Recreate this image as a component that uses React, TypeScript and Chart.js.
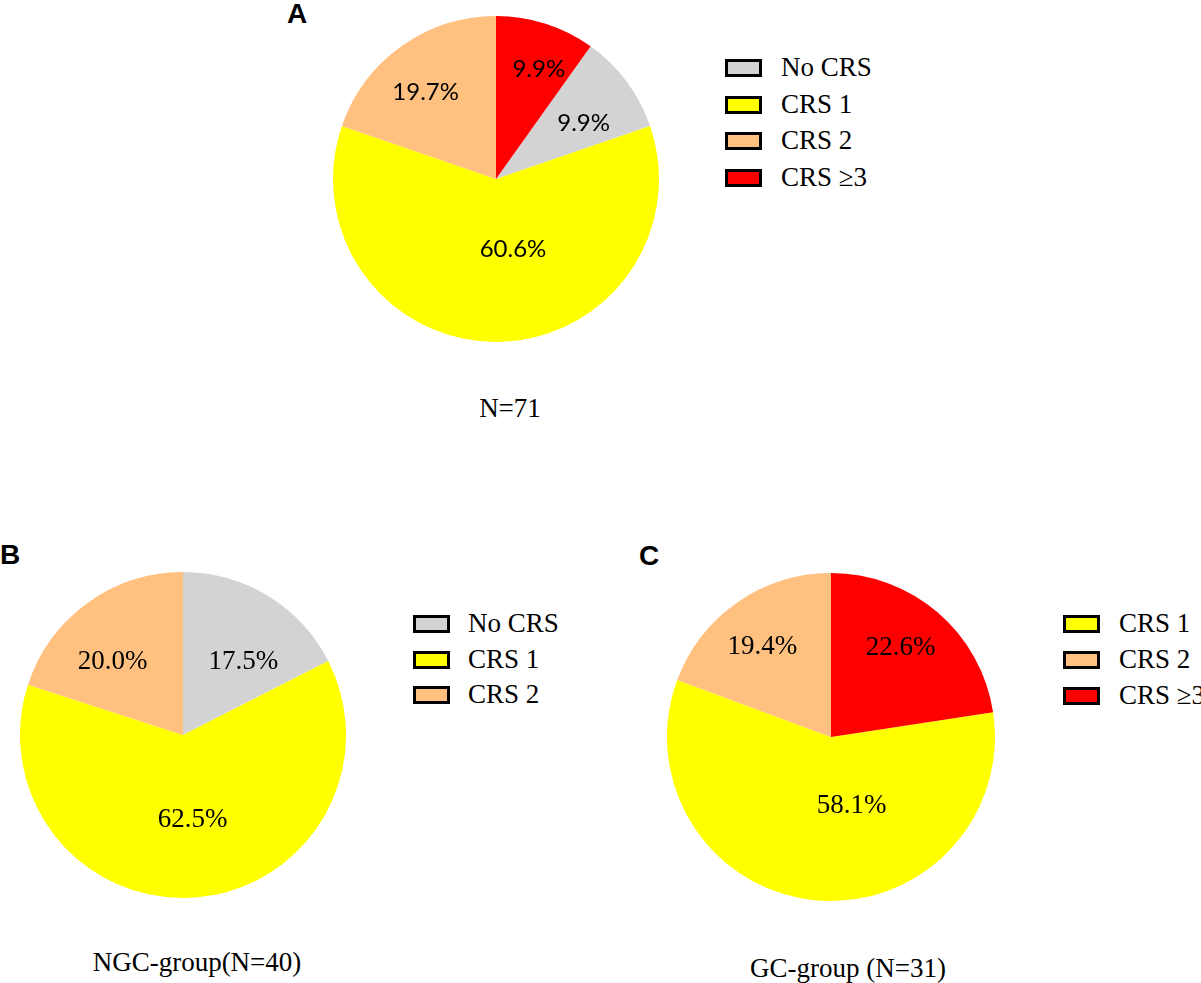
import { useEffect, useRef } from "react";
import { Chart, ArcElement, PieController } from "chart.js";

Chart.register(PieController, ArcElement);

// patient counts per CRS grade
const categoriesAll = ["No CRS", "CRS 1", "CRS 2", "CRS ≥3"];
const countsAll = [7, 43, 14, 7];

const categoriesNGC = ["No CRS", "CRS 1", "CRS 2"];
const countsNGC = [7, 25, 8];

const categoriesGC = ["CRS 1", "CRS 2", "CRS ≥3"];
const countsGC = [18, 6, 7];

const categoryColors: Record<string, string> = {
  "No CRS": "#D3D3D3",
  "CRS 1": "#FFFF00",
  "CRS 2": "#FFC080",
  "CRS ≥3": "#FF0000",
};

const SERIF = '"Liberation Serif", "Times New Roman", serif';
const SANS = '"Liberation Sans", Arial, sans-serif';

type Place = [number, number, number];

interface PieProps {
  categories: string[];
  counts: number[];
  left: number;
  top: number;
  size: number;
  labelFont: string;
  places: Place[];
}

function Pie({ categories, counts, left, top, size, labelFont, places }: PieProps) {
  const chartRef = useRef<HTMLCanvasElement | null>(null);

  useEffect(() => {
    const ctx = chartRef.current?.getContext("2d");
    if (!ctx) return;

    const total = counts.reduce((a, b) => a + b, 0);
    const labels = counts.map((c) => `${((c / total) * 100).toFixed(1)}%`);
    // the highest grade slice starts at 12 o'clock
    const topIdx = categories.indexOf("CRS ≥3");
    const rotation = topIdx >= 0 ? (360 * counts[topIdx]) / total : 0;

    const sliceLabels = {
      id: "sliceLabels",
      afterDatasetsDraw(chart: Chart) {
        const c = chart.ctx;
        const meta = chart.getDatasetMeta(0);
        c.save();
        c.font = labelFont;
        c.fillStyle = "#000";
        c.textAlign = "center";
        c.textBaseline = "middle";
        meta.data.forEach((el: any, i: number) => {
          const { x, y, startAngle, endAngle, outerRadius } = el.getProps(
            ["x", "y", "startAngle", "endAngle", "outerRadius"],
            true
          );
          const mid = (startAngle + endAngle) / 2;
          const [frac, dx, dy] = places[i];
          c.fillText(
            labels[i],
            x + Math.cos(mid) * outerRadius * frac + dx,
            y + Math.sin(mid) * outerRadius * frac + dy
          );
        });
        c.restore();
      },
    };

    const chart = new Chart(ctx, {
      type: "pie",
      data: {
        labels: categories,
        datasets: [
          {
            data: counts,
            backgroundColor: categories.map((k) => categoryColors[k]),
            borderWidth: 0,
            hoverOffset: 0,
            offset: 0,
          },
        ],
      },
      options: {
        animation: false,
        responsive: false,
        rotation,
        layout: { padding: 0 },
        events: [],
        plugins: {
          legend: { display: false },
          tooltip: { enabled: false },
        },
      },
      plugins: [sliceLabels],
    });

    return () => chart.destroy();
  }, []);

  return (
    <canvas
      ref={chartRef}
      width={size}
      height={size}
      style={{ position: "absolute", left, top, width: size, height: size }}
    />
  );
}

function Legend({
  categories,
  left,
  top,
  pitch,
  textLeft,
}: {
  categories: string[];
  left: number;
  top: number;
  pitch: number;
  textLeft: number;
}) {
  return (
    <>
      {categories.map((k, i) => (
        <div key={k}>
          <div
            style={{
              position: "absolute",
              left,
              top: top + i * pitch,
              width: 37,
              height: 18,
              boxSizing: "border-box",
              border: "3px solid #000",
              background: categoryColors[k],
            }}
          />
          <div
            style={{
              position: "absolute",
              left: textLeft,
              top: top - 5 + i * pitch,
              font: `27px ${SERIF}`,
              lineHeight: "27px",
              whiteSpace: "nowrap",
              color: "#000",
            }}
          >
            {k}
          </div>
        </div>
      ))}
    </>
  );
}

function Caption({ text, cx, top }: { text: string; cx: number; top: number }) {
  return (
    <div
      style={{
        position: "absolute",
        left: cx - 200,
        width: 400,
        top,
        textAlign: "center",
        font: `27px ${SERIF}`,
        lineHeight: "27px",
        color: "#000",
      }}
    >
      {text}
    </div>
  );
}

function Letter({ text, left, top }: { text: string; left: number; top: number }) {
  return (
    <div
      style={{
        position: "absolute",
        left,
        top,
        font: `bold 28px ${SANS}`,
        lineHeight: "28px",
        color: "#000",
      }}
    >
      {text}
    </div>
  );
}

export default function App() {
  return (
    <div
      style={{
        position: "absolute",
        left: 0,
        top: 0,
        width: 1201,
        height: 983,
        overflow: "hidden",
        background: "#fff",
      }}
    >
      <Letter text="A" left={287} top={0} />
      <Pie
        categories={categoriesAll}
        counts={countsAll}
        left={333}
        top={16}
        size={326}
        labelFont="24px Lato, sans-serif"
        places={[
          [0.64, 4, 7],
          [0.44, 17, -1],
          [0.68, -6, 4],
          [0.72, 7, 2],
        ]}
      />
      <Legend categories={categoriesAll} left={725} top={59} pitch={36.7} textLeft={781} />
      <Caption text="N=71" cx={510} top={395} />

      <Letter text="B" left={0} top={541} />
      <Pie
        categories={categoriesNGC}
        counts={countsNGC}
        left={20}
        top={572}
        size={326}
        labelFont={`27px ${SERIF}`}
        places={[
          [0.58, 11, 8],
          [0.52, 3, 0],
          [0.62, -11, 9],
        ]}
      />
      <Legend categories={categoriesNGC} left={413} top={615} pitch={35.5} textLeft={468} />
      <Caption text="NGC-group(N=40)" cx={197} top={949} />

      <Letter text="C" left={639} top={542} />
      <Pie
        categories={categoriesGC}
        counts={countsGC}
        left={667}
        top={573}
        size={328}
        labelFont={`27px ${SERIF}`}
        places={[
          [0.44, 28, -3],
          [0.69, -4, 3],
          [0.69, -4, -3],
        ]}
      />
      <Legend categories={categoriesGC} left={1063} top={615} pitch={36} textLeft={1119} />
      <Caption text="GC-group (N=31)" cx={848} top={955} />
    </div>
  );
}
